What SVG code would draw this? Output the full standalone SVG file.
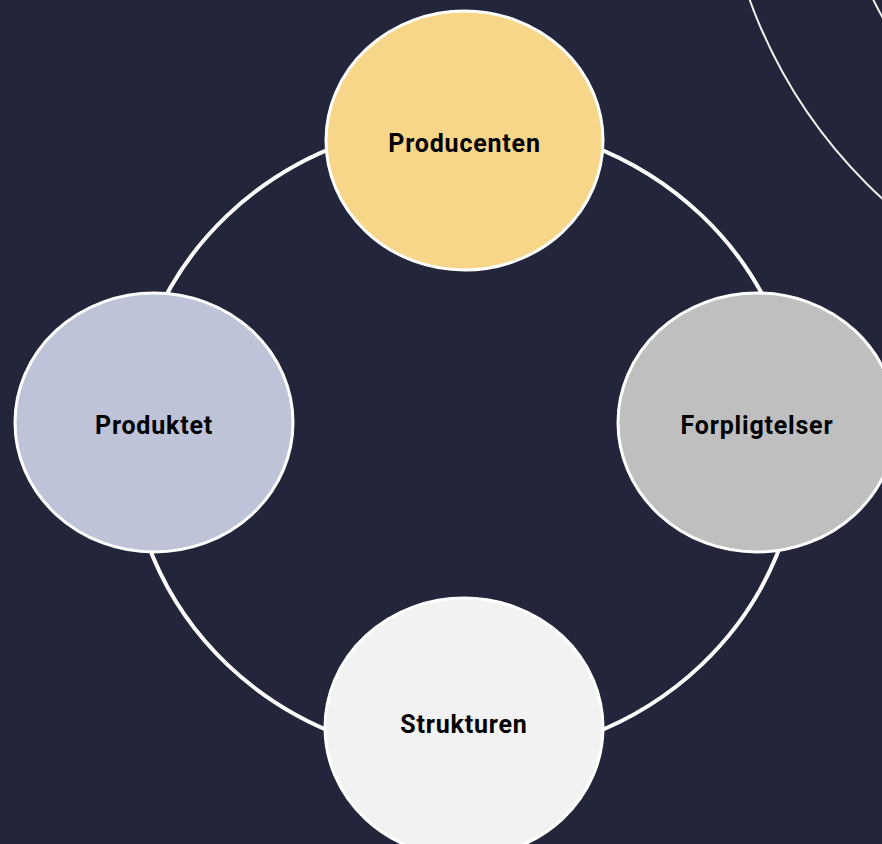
<svg xmlns="http://www.w3.org/2000/svg" width="882" height="844" viewBox="0 0 882 844">
  <style>
    .bg { fill: #23263a; }
    .deco { fill: none; stroke: #f2f2f2; stroke-width: 2; }
    .conn { fill: none; stroke: #ffffff; stroke-width: 4; }
    .node { stroke: #ffffff; stroke-width: 3; }
    .label { font-family: Roboto, "Liberation Sans", sans-serif; font-weight: 700; font-size: 25px; letter-spacing: 0.8px; fill: #000000; text-anchor: middle; dominant-baseline: central; }
  </style>
  <rect class="bg" x="0" y="0" width="882" height="844"/>
  <g id="decoration">
    <circle class="deco" cx="1220" cy="-170" r="500"/>
    <circle class="deco" cx="1220" cy="-170" r="386"/>
  </g>
  <g id="connectors">
    <path class="conn" d="M464.5,122 A335,318 0 0 0 129.5,440"/>
    <path class="conn" d="M129.5,440 A335,318 0 0 0 464.5,758"/>
    <path class="conn" d="M464.5,758 A335,318 0 0 0 799.5,440"/>
    <path class="conn" d="M799.5,440 A335,318 0 0 0 464.5,122"/>
  </g>
  <g id="node-producenten">
    <ellipse class="node" cx="464.5" cy="140.5" rx="138.5" ry="129.5" fill="#f8d689"/>
    <text class="label" x="464.5" y="143">Producenten</text>
  </g>
  <g id="node-produktet">
    <ellipse class="node" cx="154" cy="422.5" rx="139" ry="129.5" fill="#bec3d7"/>
    <text class="label" x="154" y="425">Produktet</text>
  </g>
  <g id="node-forpligtelser">
    <ellipse class="node" cx="757" cy="422.5" rx="139" ry="129.5" fill="#bfbfbf"/>
    <text class="label" x="757" y="425">Forpligtelser</text>
  </g>
  <g id="node-strukturen">
    <ellipse class="node" cx="464" cy="727.5" rx="139" ry="129.5" fill="#f2f2f2"/>
    <text class="label" x="464" y="724">Strukturen</text>
  </g>
</svg>
